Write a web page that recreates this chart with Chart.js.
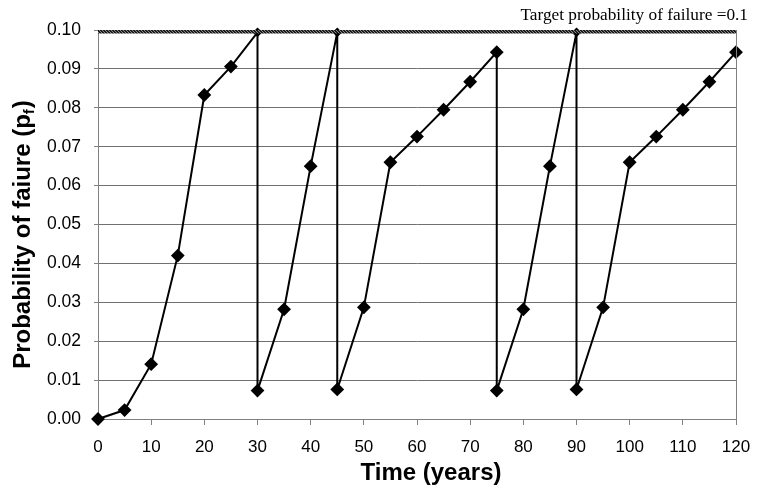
<!DOCTYPE html>
<html><head><meta charset="utf-8">
<script src="https://cdn.jsdelivr.net/npm/chart.js@4/dist/chart.umd.min.js"></script>
<style>html,body{margin:0;padding:0;background:#fff;}canvas{display:block;}</style>
</head><body>
<canvas id="c" width="769" height="490"></canvas>
<script>
const times = [0,5,10,15,20,25,30,30,35,40,45,45,50,55,60,65,70,75,75,80,85,90,90,95,100,105,110,115,120];
const pf = [0,0.0023,0.0141,0.042,0.0833,0.0906,0.0994,0.0073,0.0282,0.065,0.0994,0.0076,0.0287,0.066,0.0726,0.0795,0.0867,0.0943,0.0073,0.0282,0.065,0.0994,0.0076,0.0287,0.066,0.0726,0.0795,0.0867,0.0943];
const targetX = [0,120];
const targetPf = [0.0997,0.0997];
const xTicks = [0,10,20,30,40,50,60,70,80,90,100,110,120];
const yTicks = [0,0.01,0.02,0.03,0.04,0.05,0.06,0.07,0.08,0.09,0.10];
const targetLabel = 'Target probability of failure =0.1';
const xTitle = 'Time (years)';
const yTitleMain = 'Probability of faiure (p';
const yTitleSub = 'f';
const yTitleEnd = ')';

// hatched pattern for target line
const pc = document.createElement('canvas'); pc.width = 3; pc.height = 3;
const pctx = pc.getContext('2d');
pctx.fillStyle = '#1a1a1a'; pctx.fillRect(0,0,3,3);
pctx.fillStyle = '#8a8a8a'; pctx.fillRect(0,0,1,1); pctx.fillRect(1,1,1,1); pctx.fillRect(2,2,1,1);
const pattern = pctx.createPattern(pc,'repeat');

const textPlugin = {
  id: 'texts',
  afterDraw(chart) {
    const ctx = chart.ctx, a = chart.chartArea;
    ctx.save();
    ctx.strokeStyle = '#808080'; ctx.lineWidth = 1;
    ctx.beginPath(); ctx.moveTo(Math.round(a.right)+0.5, a.top); ctx.lineTo(Math.round(a.right)+0.5, a.bottom); ctx.stroke();
    ctx.fillStyle = '#000';
    ctx.font = '17.3px "Liberation Serif", "Times New Roman", serif';
    ctx.textAlign = 'right'; ctx.textBaseline = 'alphabetic';
    ctx.fillText(targetLabel, 748, 20);
    ctx.font = 'bold 24px "Liberation Sans", Arial, sans-serif';
    ctx.textAlign = 'center';
    ctx.fillText(xTitle, 431, 480);
    ctx.translate(29.5, 235);
    ctx.rotate(-Math.PI/2);
    ctx.textAlign = 'left';
    const fMain = 'bold 24px "Liberation Sans", Arial, sans-serif';
    const fSub = 'bold 15px "Liberation Sans", Arial, sans-serif';
    ctx.font = fMain; const w1 = ctx.measureText(yTitleMain).width; const w3 = ctx.measureText(yTitleEnd).width;
    ctx.font = fSub; const w2 = ctx.measureText(yTitleSub).width;
    let x0 = -(w1+w2+w3)/2;
    ctx.font = fMain; ctx.fillText(yTitleMain, x0, 0);
    ctx.font = fSub; ctx.fillText(yTitleSub, x0+w1, 4);
    ctx.font = fMain; ctx.fillText(yTitleEnd, x0+w1+w2+1, 0);
    ctx.restore();
  }
};

new Chart(document.getElementById('c'), {
  type: 'line',
  data: {
    datasets: [
      {
        label: 'target',
        data: targetX.map((x,i)=>({x, y: targetPf[i]})),
        borderColor: pattern, borderWidth: 4.5, pointRadius: 0, order: 0
      },
      {
        label: 'pf',
        data: times.map((x,i)=>({x, y: pf[i]})),
        borderColor: '#000', backgroundColor: '#000', borderWidth: 2,
        pointStyle: 'rectRot', pointRadius: c => (c.raw && c.raw.y > 0.099 ? 3.5 : 5.5),
        pointBackgroundColor: '#000', pointBorderColor: '#000',
        tension: 0, clip: false, order: 1
      }
    ]
  },
  options: {
    responsive: false, animation: false,
    layout: { padding: { top: 30, right: 33, left: 0, bottom: 0 } },
    plugins: { legend: { display: false }, tooltip: { enabled: false }, title: { display: false } },
    scales: {
      x: {
        type: 'linear', min: 0, max: 120,
        afterFit: s => { s.height = 71; },
        afterBuildTicks: s => { s.ticks = xTicks.map(v => ({ value: v })); },
        grid: { drawOnChartArea: false, drawTicks: true, tickLength: 6, color: '#808080' },
        border: { display: true, color: '#808080', width: 1 },
        ticks: { color: '#000', padding: 12, maxRotation: 0, font: { family: '"Liberation Sans", Arial, sans-serif', size: 17 } }
      },
      y: {
        type: 'linear', min: 0, max: 0.1,
        afterFit: s => { s.width = 98; },
        afterBuildTicks: s => { s.ticks = yTicks.map(v => ({ value: v })); },
        grid: { drawOnChartArea: true, color: '#707070', borderDash: [2,2], tickLength: 4, tickColor: '#808080', tickBorderDash: [] },
        border: { display: true, color: '#808080', width: 1 },
        ticks: { color: '#000', padding: 13, callback: v => Number(v).toFixed(2), font: { family: '"Liberation Sans", Arial, sans-serif', size: 17.5 } }
      }
    }
  },
  plugins: [textPlugin]
});
</script>
</body></html>
